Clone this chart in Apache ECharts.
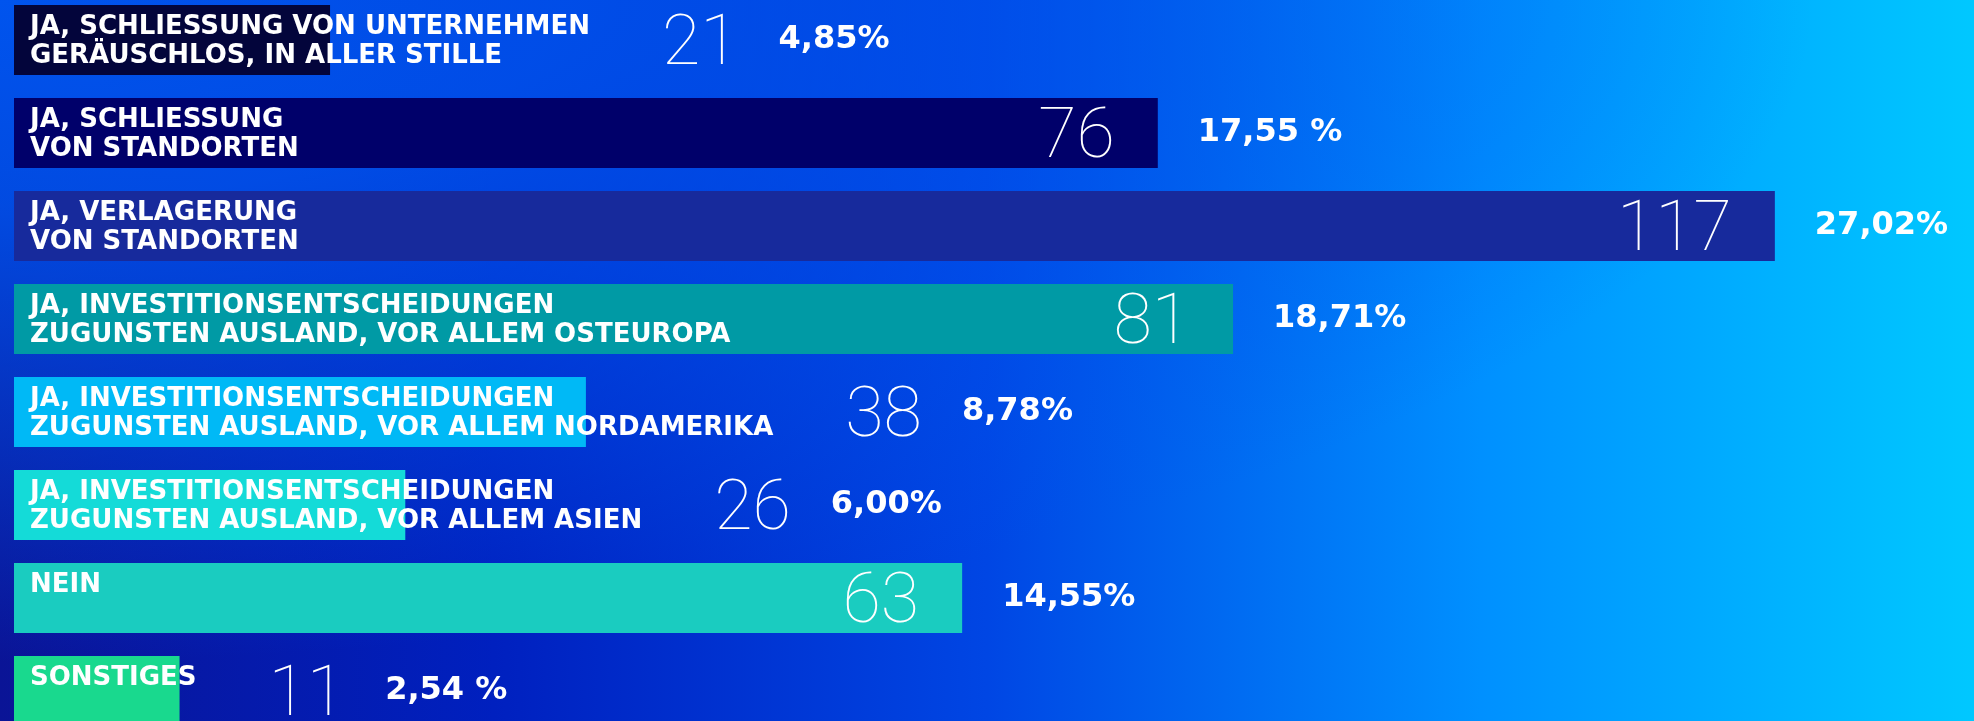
<!DOCTYPE html>
<html>
<head>
<meta charset="utf-8">
<script src="https://cdn.jsdelivr.net/npm/echarts@6/dist/echarts.min.js"></script>
<style>
  html, body { margin: 0; padding: 0; }
  #chart {
    width: 1974px;
    height: 721px;
    background:
      radial-gradient(ellipse at 0% 0%, rgba(0,84,238,1) 0%, rgba(0,84,238,0.85) 20%, rgba(0,84,238,0) 65%),
      linear-gradient(90deg, #0a1496 0%, #0020bf 25%, #0046e4 50%, #0090ff 75%, #00c8ff 100%);
  }
</style>
</head>
<body>
<div id="chart"></div>
<script>
// Antworten (Kategorien), Anzahl der Nennungen und Anteil
const categories = [
  'JA, SCHLIESSUNG VON UNTERNEHMEN\nGERÄUSCHLOS, IN ALLER STILLE',
  'JA, SCHLIESSUNG\nVON STANDORTEN',
  'JA, VERLAGERUNG\nVON STANDORTEN',
  'JA, INVESTITIONSENTSCHEIDUNGEN\nZUGUNSTEN AUSLAND, VOR ALLEM OSTEUROPA',
  'JA, INVESTITIONSENTSCHEIDUNGEN\nZUGUNSTEN AUSLAND, VOR ALLEM NORDAMERIKA',
  'JA, INVESTITIONSENTSCHEIDUNGEN\nZUGUNSTEN AUSLAND, VOR ALLEM ASIEN',
  'NEIN',
  'SONSTIGES'
];
const counts = [21, 76, 117, 81, 38, 26, 63, 11];
const percents = ['4,85%', '17,55 %', '27,02%', '18,71%', '8,78%', '6,00%', '14,55%', '2,54 %'];

const barColors = ['#03053b', '#00006a', '#172a9c', '#009aa5', '#00b9f6', '#14dbd8', '#1accc0', '#19d98e'];

const LABEL_FONT = "bold 26px 'DejaVu Sans'";
const NUM_FONT = "100 70px Roboto";

const chart = echarts.init(document.getElementById('chart'));

const option = {
  backgroundColor: 'transparent',
  animation: false,
  grid: { left: 14, right: 3.5, top: 40, bottom: 30 },
  xAxis: { type: 'value', min: 0, max: 130, show: false },
  yAxis: { type: 'category', data: categories, inverse: true, boundaryGap: false, show: false },
  series: [
    {
      name: 'Anzahl',
      type: 'bar',
      barWidth: 70,
      clip: false,
      data: counts.map((v, i) => ({ value: v, itemStyle: { color: barColors[i] } })),
      label: {
        show: true,
        position: [16, 8],
        align: 'left',
        verticalAlign: 'top',
        color: '#fff',
        fontFamily: 'DejaVu Sans',
        fontWeight: 'bold',
        fontSize: 26,
        lineHeight: 29,
        formatter: p => p.name
      },
      z: 2
    },
    {
      name: 'Zahl',
      type: 'bar',
      barWidth: 70,
      barGap: '-100%',
      clip: false,
      silent: true,
      itemStyle: { color: 'rgba(0,0,0,0)' },
      data: counts.slice(),
      label: {
        show: true,
        position: 'insideRight',
        distance: 0,
        offset: [0, 6],
        color: '#fff',
        fontFamily: 'Roboto',
        fontWeight: 100,
        fontSize: 70,
        formatter: p => String(counts[p.dataIndex])
      },
      z: 3
    },
    {
      name: 'Prozent',
      type: 'bar',
      barWidth: 70,
      barGap: '-100%',
      clip: false,
      silent: true,
      itemStyle: { color: 'rgba(0,0,0,0)' },
      data: counts.slice(),
      label: {
        show: true,
        position: 'right',
        distance: 40,
        color: '#fff',
        fontFamily: 'DejaVu Sans',
        fontWeight: 'bold',
        fontSize: 32,
        formatter: p => percents[p.dataIndex]
      },
      z: 3
    }
  ]
};

chart.setOption(option);

// Zahl und Prozent hinter dem Kategorietext platzieren, wenn der Balken zu kurz ist
const ctx = document.createElement('canvas').getContext('2d');
function textWidth(str, font) {
  ctx.font = font;
  return Math.max(...str.split('\n').map(s => ctx.measureText(s).width));
}
const x0 = chart.convertToPixel({ xAxisIndex: 0 }, 0);
const numAnchor = [];
const pctAnchor = [];
counts.forEach((v, i) => {
  const end = chart.convertToPixel({ xAxisIndex: 0 }, v);
  const labelEnd = x0 + 16 + textWidth(categories[i], LABEL_FONT);
  const numRight = Math.max(end - 43, labelEnd + 72 + textWidth(String(v), NUM_FONT));
  numAnchor.push(chart.convertFromPixel({ xAxisIndex: 0 }, numRight));
  pctAnchor.push(chart.convertFromPixel({ xAxisIndex: 0 }, Math.max(end, numRight)));
});
chart.setOption({ series: [{}, { data: numAnchor }, { data: pctAnchor }] });
</script>
</body>
</html>
